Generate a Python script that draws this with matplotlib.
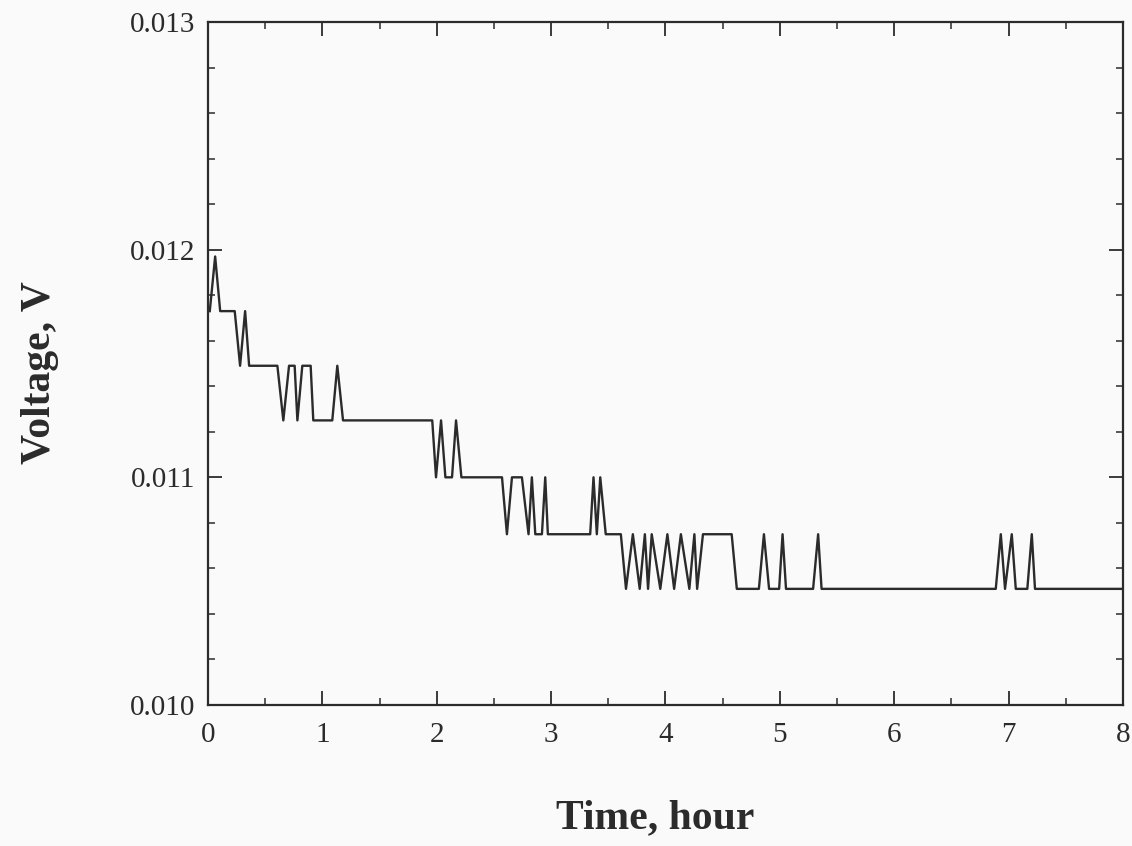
import matplotlib.pyplot as plt
from matplotlib.ticker import MultipleLocator, FormatStrFormatter

# time in hours, voltage in volts
time_h = [0.016, 0.063, 0.107, 0.234, 0.281, 0.325, 0.360,
          0.607, 0.659, 0.709, 0.758, 0.782, 0.825, 0.898, 0.921,
          1.087, 1.131, 1.181, 1.961,
          1.994, 2.038, 2.076, 2.134, 2.169, 2.216,
          2.571, 2.614, 2.658, 2.745, 2.803, 2.832, 2.862, 2.920, 2.949, 2.972,
          3.342, 3.371, 3.400, 3.430, 3.478, 3.610,
          3.655, 3.715, 3.775, 3.820, 3.848, 3.880, 3.955, 4.017, 4.076, 4.135,
          4.209, 4.253, 4.277, 4.328,
          4.579, 4.624,
          4.817, 4.861, 4.906, 4.994, 5.024, 5.054,
          5.291, 5.335, 5.365,
          6.888, 6.932, 6.969, 7.028, 7.063, 7.164, 7.203, 7.231,
          8.00]

voltage = [0.01173, 0.01197, 0.01173, 0.01173, 0.01149, 0.01173, 0.01149,
           0.01149, 0.01125, 0.01149, 0.01149, 0.01125, 0.01149, 0.01149, 0.01125,
           0.01125, 0.01149, 0.01125, 0.01125,
           0.01100, 0.01125, 0.01100, 0.01100, 0.01125, 0.01100,
           0.01100, 0.01075, 0.01100, 0.01100, 0.01075, 0.01100, 0.01075, 0.01075, 0.01100, 0.01075,
           0.01075, 0.01100, 0.01075, 0.01100, 0.01075, 0.01075,
           0.01051, 0.01075, 0.01051, 0.01075, 0.01051, 0.01075, 0.01051, 0.01075, 0.01051, 0.01075,
           0.01051, 0.01075, 0.01051, 0.01075,
           0.01075, 0.01051,
           0.01051, 0.01075, 0.01051, 0.01051, 0.01075, 0.01051,
           0.01051, 0.01075, 0.01051,
           0.01051, 0.01075, 0.01051, 0.01075, 0.01051, 0.01051, 0.01075, 0.01051,
           0.01051]

ink = '#2b2b2b'
plt.rcParams['font.family'] = ['Liberation Serif', 'DejaVu Serif']

fig = plt.figure(figsize=(11.32, 8.46), dpi=100, facecolor='#fafafb')
ax = fig.add_axes([0.1837, 0.1667, 0.8083, 0.8073])
ax.set_facecolor('#fafafb')

ax.plot(time_h, voltage, color=ink, linewidth=1.7)

ax.set_xlim(0, 8)
ax.set_ylim(0.010, 0.013)
ax.xaxis.set_major_locator(MultipleLocator(1))
ax.xaxis.set_minor_locator(MultipleLocator(0.5))
ax.yaxis.set_major_locator(MultipleLocator(0.001))
ax.yaxis.set_minor_locator(MultipleLocator(0.0002))
ax.yaxis.set_major_formatter(FormatStrFormatter('%.3f'))

ax.tick_params(which='both', direction='in', top=True, right=True, color=ink,
               labelsize=21, labelcolor=ink)
ax.tick_params(which='major', length=10, width=1.3)
ax.tick_params(which='minor', length=5, width=1.1)
ax.tick_params(axis='x', pad=12)
ax.tick_params(axis='y', pad=9)
for s in ax.spines.values():
    s.set_linewidth(1.6)
    s.set_color(ink)

ax.set_xlabel('Time, hour', fontsize=30, fontweight='bold', color=ink)
ax.set_ylabel('Voltage, V', fontsize=30, fontweight='bold', color=ink)
ax.xaxis.set_label_coords(0.489, -0.138)
ax.yaxis.set_label_coords(-0.163, 0.487)

fig.savefig('out.png', dpi=100, facecolor=fig.get_facecolor())
plt.close(fig)
